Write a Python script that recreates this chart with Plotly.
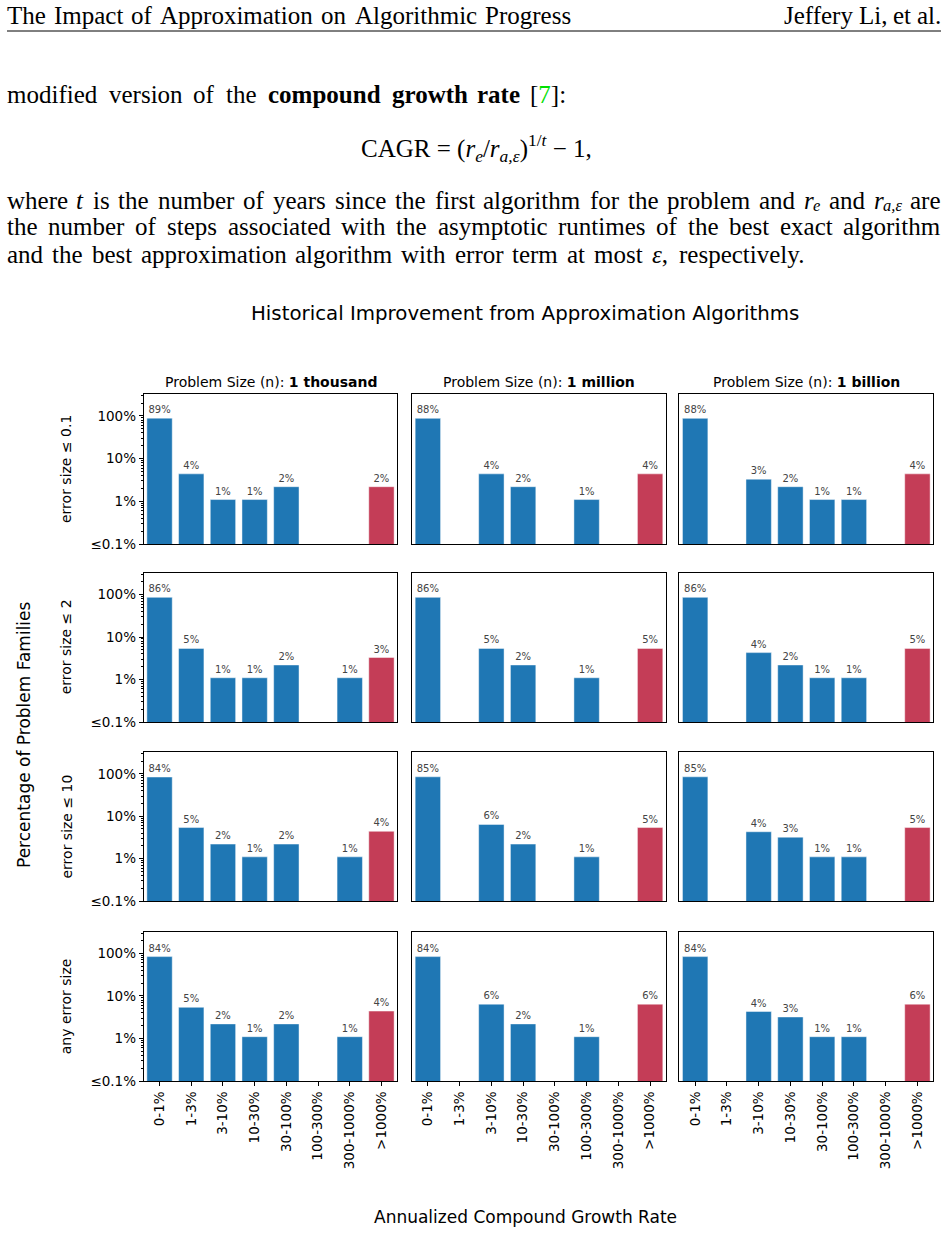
"""Historical improvement from approximation algorithms: 4x3 grid of log-scale bar panels."""

import re

import plotly.graph_objects as go
from plotly.subplots import make_subplots

W, H = 948, 1234

CATEGORIES = ["0-1%", "1-3%", "3-10%", "10-30%", "30-100%", "100-300%", "300-1000%", ">1000%"]
PROBLEM_SIZES = ["1 thousand", "1 million", "1 billion"]
ERROR_LABELS = ["error size ≤ 0.1", "error size ≤ 2", "error size ≤ 10", "any error size"]

# share of problem families (%) per CAGR bucket, one list per problem size
ERR_01 = [
    [89, 4.4, 1.1, 1.1, 2.2, 0, 0, 2.2],
    [88, 0, 4.4, 2.2, 0, 1.1, 0, 4.4],
    [88, 0, 3.3, 2.2, 1.1, 1.1, 0, 4.4],
]
ERR_2 = [
    [86, 5.4, 1.1, 1.1, 2.2, 0, 1.1, 3.3],
    [86, 0, 5.4, 2.2, 0, 1.1, 0, 5.4],
    [86, 0, 4.3, 2.2, 1.1, 1.1, 0, 5.4],
]
ERR_10 = [
    [84, 5.4, 2.2, 1.1, 2.2, 0, 1.1, 4.4],
    [85, 0, 6.4, 2.2, 0, 1.1, 0, 5.4],
    [85, 0, 4.3, 3.2, 1.1, 1.1, 0, 5.4],
]
ERR_ANY = [
    [84, 5.4, 2.2, 1.1, 2.2, 0, 1.1, 4.4],
    [84, 0, 6.4, 2.2, 0, 1.1, 0, 6.4],
    [84, 0, 4.3, 3.2, 1.1, 1.1, 0, 6.4],
]
PANELS = [ERR_01, ERR_2, ERR_10, ERR_ANY]

Y_TICKS = [0.1, 1, 10, 100]
Y_TICK_TEXT = ["≤0.1%", "1%", "10%", "100%"]

BLUE = "#1f77b4"
RED = "#c43d57"
SANS = "DejaVu Sans"
SERIF = "Liberation Serif"
PAGE_SIZE = 25

# panel boxes in page pixels
COL_X = [(143.7, 397.3), (412.0, 666.0), (679.3, 933.3)]
ROW_Y = [(394.0, 544.0), (572.7, 722.0), (752.0, 901.0), (931.5, 1081.0)]


def px(x):
    return x / W


def py(y):
    return 1 - y / H


# rough Times advance widths (1/1000 em) for spacing the page text
_TIMES = dict(zip("abcdefghijklmnopqrstuvwxyz",
                  [444, 500, 444, 500, 444, 333, 500, 500, 278, 278, 500, 278, 778,
                   500, 500, 500, 500, 333, 389, 278, 500, 500, 722, 500, 500, 444]))
_TIMES.update({"T": 611, "I": 333, "A": 722, "P": 556, "J": 389, "L": 611, ",": 250,
               ".": 250, ":": 278, "[": 333, "]": 333, "7": 500, "ε": 440})


def text_width(html, size):
    plain = re.sub(r"<[^>]+>", "", html)
    w = sum(_TIMES.get(ch, 500) for ch in plain) / 1000 * size
    return w * 1.06 if "<b>" in html else w


def _word(fig, text, x, y, size):
    fig.add_annotation(
        x=px(x), y=py(y), xref="paper", yref="paper", text=text,
        showarrow=False, xanchor="center", yanchor="middle",
        font=dict(family=SERIF, size=size, color="black"),
    )


def place_words(fig, words, x0, x1, y, size):
    """Spread words between x0 and x1 (page px) like justified LaTeX text.

    A word given as (base, subscript) gets its subscript drawn as a smaller, lowered text.
    """
    sub_size = size * 0.66
    widths = []
    for w in words:
        if isinstance(w, tuple):
            widths.append(text_width(w[0], size) + text_width(w[1], sub_size))
        else:
            widths.append(text_width(w, size))
    gap = (x1 - x0 - sum(widths)) / max(len(words) - 1, 1)
    x = x0
    for word, w in zip(words, widths):
        if isinstance(word, tuple):
            wb = text_width(word[0], size)
            _word(fig, word[0], x + wb / 2, y, size)
            _word(fig, word[1], x + wb + (w - wb) / 2, y + 5, sub_size)
        else:
            _word(fig, word, x + w / 2, y, size)
        x += w + gap


fig = make_subplots(rows=4, cols=3)

for r, panel in enumerate(PANELS):
    for c, values in enumerate(panel):
        ys = [v if v > 0 else None for v in values]
        colors = [RED if cat == CATEGORIES[-1] else BLUE for cat in CATEGORIES]
        fig.add_trace(
            go.Bar(
                x=CATEGORIES, y=ys, width=0.8,
                marker=dict(color=colors, line=dict(color="rgba(255,255,255,0.45)", width=1)),
                texttemplate="%{y:.0f}%", textposition="outside", cliponaxis=False,
                constraintext="none",
                textfont=dict(family=SANS, size=10, color="#444"),
                showlegend=False, hoverinfo="skip",
            ),
            row=r + 1, col=c + 1,
        )
        n = r * 3 + c + 1
        xa = "xaxis" if n == 1 else f"xaxis{n}"
        ya = "yaxis" if n == 1 else f"yaxis{n}"
        x0, x1 = COL_X[c]
        y0, y1 = ROW_Y[r]
        bottom = r == len(PANELS) - 1
        first = c == 0
        fig.update_layout({
            xa: dict(
                domain=[px(x0), px(x1)], type="category", range=[-0.5, 7.5],
                categoryorder="array", categoryarray=CATEGORIES,
                showline=True, mirror=True, linecolor="black", linewidth=1,
                showgrid=False, zeroline=False, automargin=False, fixedrange=True,
                ticks="outside" if bottom else "", ticklen=4, tickcolor="black",
                showticklabels=bottom, tickangle=-90,
                tickfont=dict(family=SANS, size=13.5, color="black"),
            ),
            ya: dict(
                domain=[py(y1), py(y0)], type="log", range=[-1, 2.515],
                showline=True, mirror=True, linecolor="black", linewidth=1,
                showgrid=False, zeroline=False, automargin=False, fixedrange=True,
                tickmode="array", tickvals=Y_TICKS, ticktext=Y_TICK_TEXT,
                ticks="outside" if first else "", ticklen=4, tickcolor="black",
                showticklabels=first,
                tickfont=dict(family=SANS, size=13.5, color="black"),
                minor=dict(
                    tickmode="array",
                    tickvals=[m * d for d in (0.1, 1, 10, 100) for m in range(2, 10)],
                    ticks="outside" if first else "", ticklen=2, tickcolor="black",
                    showgrid=False,
                ),
            ),
        })

# column titles
for c, size in enumerate(PROBLEM_SIZES):
    x0, x1 = COL_X[c]
    fig.add_annotation(
        x=px((x0 + x1) / 2), y=py(382), xref="paper", yref="paper",
        text=f"Problem Size (n): <b>{size}</b>", showarrow=False,
        xanchor="center", yanchor="middle", font=dict(family=SANS, size=14, color="black"),
    )

# row labels
for r, label in enumerate(ERROR_LABELS):
    y0, y1 = ROW_Y[r]
    fig.add_annotation(
        x=px(66), y=py((y0 + y1) / 2), xref="paper", yref="paper", text=label,
        textangle=-90, showarrow=False, xanchor="center", yanchor="middle",
        font=dict(family=SANS, size=14, color="black"),
    )

fig.add_annotation(
    x=px(24), y=py(735), xref="paper", yref="paper", text="Percentage of Problem Families",
    textangle=-90, showarrow=False, xanchor="center", yanchor="middle",
    font=dict(family=SANS, size=17, color="black"),
)
fig.add_annotation(
    x=px(525), y=py(1217), xref="paper", yref="paper", text="Annualized Compound Growth Rate",
    showarrow=False, xanchor="center", yanchor="middle",
    font=dict(family=SANS, size=17, color="black"),
)
fig.add_annotation(
    x=px(525), y=py(313), xref="paper", yref="paper",
    text="Historical Improvement from Approximation Algorithms",
    showarrow=False, xanchor="center", yanchor="middle",
    font=dict(family=SANS, size=19.8, color="black"),
)

# page text above the figure
place_words(fig, "The Impact of Approximation on Algorithmic Progress".split(), 7, 571, 15, PAGE_SIZE)
place_words(fig, "Jeffery Li, et al.".split(), 784, 941, 15, PAGE_SIZE)
fig.add_shape(type="line", xref="paper", yref="paper", x0=px(7), x1=px(941),
              y0=py(31), y1=py(31), line=dict(color="black", width=1))

place_words(
    fig,
    ["modified", "version", "of", "the", "<b>compound</b>", "<b>growth</b>", "<b>rate</b>",
     "[<span style='color:#00e000'>7</span>]:"],
    7, 566, 95, PAGE_SIZE,
)
fig.add_annotation(
    x=px(476), y=py(148), xref="paper", yref="paper",
    text="CAGR = (<i>r</i><sub><i>e</i></sub>/<i>r</i><sub><i>a,ε</i></sub>)"
         "<sup>1/<i>t</i></sup> − 1,",
    showarrow=False, xanchor="center", yanchor="middle",
    font=dict(family=SERIF, size=PAGE_SIZE, color="black"),
)
place_words(
    fig,
    ["where", "<i>t</i>", "is", "the", "number", "of", "years", "since", "the", "first",
     "algorithm", "for", "the", "problem", "and", ("<i>r</i>", "<i>e</i>"), "and",
     ("<i>r</i>", "<i>a,ε</i>"), "are"],
    7, 941, 200, PAGE_SIZE,
)
place_words(
    fig,
    "the number of steps associated with the asymptotic runtimes of the best exact algorithm".split(),
    7, 941, 227, PAGE_SIZE,
)
place_words(
    fig,
    ["and", "the", "best", "approximation", "algorithm", "with", "error", "term", "at", "most",
     "<i>ε</i>,", "respectively."],
    7, 805, 254, PAGE_SIZE,
)

fig.update_layout(
    width=W, height=H, margin=dict(l=0, r=0, t=0, b=0),
    paper_bgcolor="white", plot_bgcolor="white", bargap=0.2,
    font=dict(family=SANS, color="black"),
)

fig.write_html(
    "out.html",
    config={"displayModeBar": False},
    post_script="document.body.style.margin = '0';",
)
